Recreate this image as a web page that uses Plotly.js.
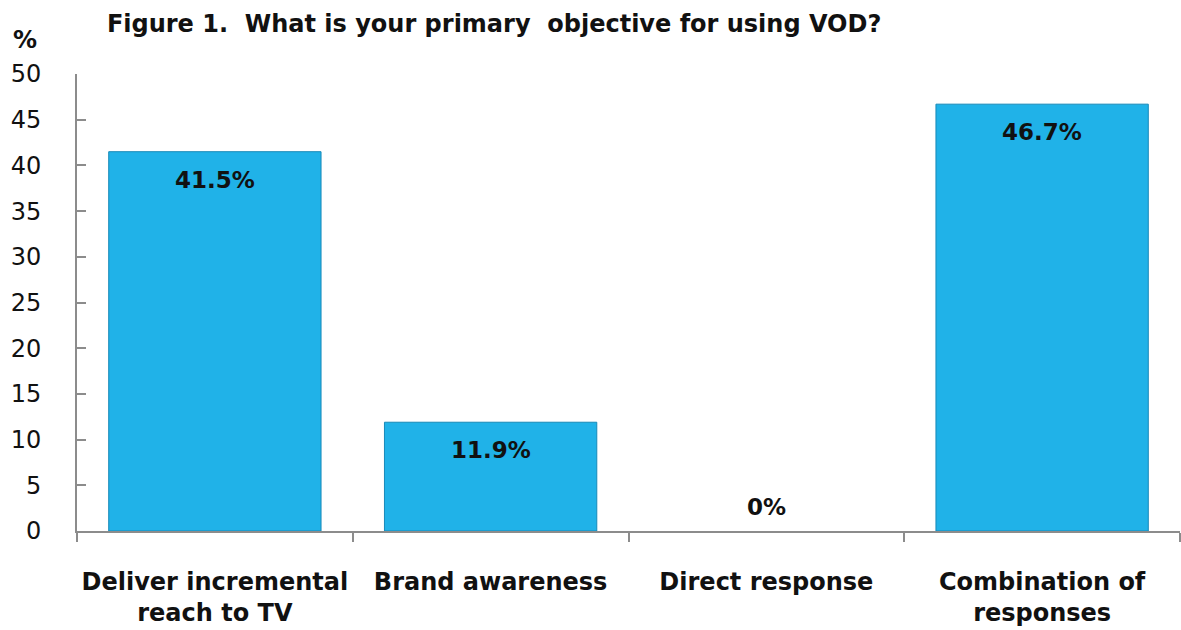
<!DOCTYPE html>
<html><head><meta charset="utf-8">
<script src="https://cdn.plot.ly/plotly-3.0.1.min.js"></script>
<style>html,body{margin:0;padding:0;background:#fff}</style>
</head><body><div id="chart" style="width:1181px;height:630px"></div>
<script>
const categories = ["Deliver incremental<br>reach to TV", "Brand awareness", "Direct response", "Combination of<br>responses"];
const values = [41.5, 11.9, 0, 46.7];
const valueLabels = ["41.5%", "11.9%", "0%", "46.7%"];
const yTicks = [0, 5, 10, 15, 20, 25, 30, 35, 40, 45, 50];

const font = "DejaVu Sans, Verdana, sans-serif";
const trace = {
  type: "bar", x: categories, y: values,
  marker: {color: "#20B2E8", line: {color: "#1789B8", width: values.map(v => v > 0 ? 1 : 0)}},
  hoverinfo: "skip"
};
const annotations = values.map((v, i) => ({
  x: categories[i], y: v, xref: "x", yref: "y",
  text: "<b>" + valueLabels[i] + "</b>", showarrow: false,
  yanchor: v > 0 ? "top" : "bottom", yshift: v > 0 ? -13 : 9,
  font: {family: font, size: 23, color: "#111"}
}));
annotations.push({xref: "paper", yref: "paper", x: -0.06, y: 1.0, yshift: 18, xanchor: "left", yanchor: "bottom",
  text: "<b>%</b>", showarrow: false, font: {family: font, size: 24, color: "#111"}});
const layout = {
  width: 1181, height: 630,
  margin: {l: 77, r: 1, t: 74, b: 99},
  paper_bgcolor: "#fff", plot_bgcolor: "#fff",
  title: {text: "<b>Figure 1.  What is your primary  objective for using VOD?</b>", x: 0.0905, xanchor: "left", y: 0.963, yanchor: "middle",
    font: {family: font, size: 24, color: "#111"}},
  bargap: 0.23,
  showlegend: false,
  xaxis: {type: "category", showline: true, linecolor: "#8c8c8c", linewidth: 2, ticks: "outside", tickson: "boundaries",
    ticklen: 9, tickcolor: "#8c8c8c", tickwidth: 2, showgrid: false, zeroline: false, tickangle: 0,
    ticklabelstandoff: 28, tickfont: {family: font, size: 24, color: "#111", weight: "bold"}},
  yaxis: {range: [0, 50], tickvals: yTicks, showline: true, linecolor: "#8c8c8c", linewidth: 2, ticks: "inside",
    ticklen: 9, tickcolor: "#8c8c8c", tickwidth: 2, showgrid: false, zeroline: false,
    ticklabelstandoff: 29, tickfont: {family: font, size: 24, color: "#111"}},
  annotations: annotations
};
Plotly.newPlot("chart", [trace], layout, {displayModeBar: false, staticPlot: true});
</script></body></html>
